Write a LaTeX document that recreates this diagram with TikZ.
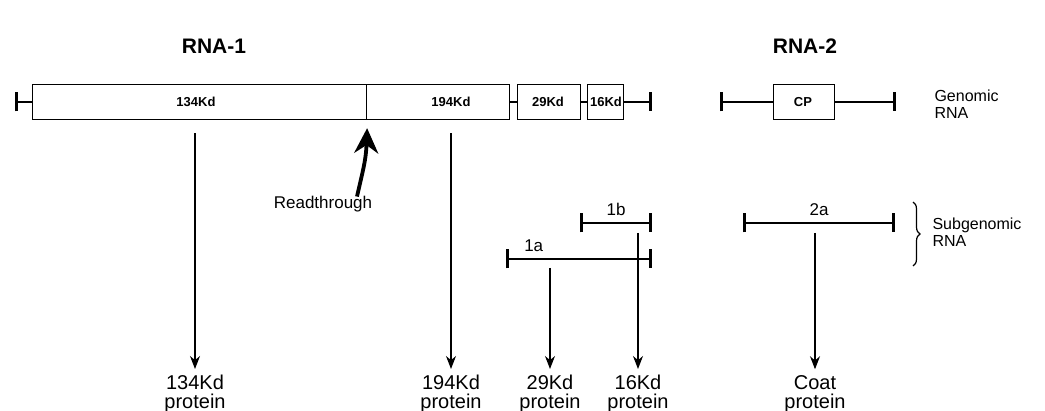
\documentclass[tikz,border=0pt]{standalone}
\usepackage{fontspec}
\setmainfont{Liberation Sans}
\usepackage{tikz}
\usetikzlibrary{arrows.meta,positioning,decorations.pathreplacing}

\begin{document}
\begin{tikzpicture}[
x=1pt, y=-1pt,
orf/.style={draw, line width=1.4pt, minimum height=35pt, inner sep=0pt, anchor=west},
orflabel/.style={font=\fontsize{13}{13}\selectfont\bfseries},
rna/.style={line width=2.6pt},
bothbars/.style={rna, {Bar[width=19pt,line width=2.6pt]}-{Bar[width=19pt,line width=2.6pt]}},
product/.style={-{Stealth[length=13pt,width=10pt]}, line width=1.2pt, shorten >=4pt},
protein/.style={align=center, inner sep=2pt, font=\fontsize{20}{19}\selectfont},
side/.style={align=left, anchor=west, font=\fontsize{16}{17}\selectfont},
sublabel/.style={above=3pt, font=\fontsize{17}{17}\selectfont},
head/.style={font=\fontsize{21}{21}\selectfont\bfseries}
]
\useasboundingbox (0,0) rectangle (1045,411);

% headings
\node[head] (h1) at (214,46) {RNA-1};
\node[head] (h2) at (805,46) {RNA-2};

% RNA-1 genomic
\coordinate (g1start) at (15,102);
\coordinate (g1end) at (652,102);
\node[orf, minimum width=334pt] (p134) at (32,102) {};
\node[orf, minimum width=143pt] (p194) at (366,102) {};
\node[orf, minimum width=63pt] (p29) at (517,102) {};
\node[orf, minimum width=36pt] (p16) at (587,102) {};
\node[orflabel] (t134) at (196,102) {134Kd};
\node[orflabel] (t194) at (451,102) {194Kd};
\node[orflabel] (t29) at (548,102) {29Kd};
\node[orflabel, inner sep=0pt] (t16) at (606,102) {16Kd};
\draw[rna, {Bar[width=19pt,line width=2.6pt]}-] (g1start) -- (p134.west);
\draw[rna] (p194.east) -- (p29.west);
\draw[rna] (p29.east) -- (p16.west);
\draw[rna, -{Bar[width=19pt,line width=2.6pt]}] (p16.east) -- (g1end);

% RNA-2 genomic
\coordinate (g2start) at (720,102);
\coordinate (g2end) at (896,102);
\node[orf, minimum width=61pt] (cp) at (773,102) {};
\node[orflabel] (tcp) at (803,102) {CP};
\draw[rna, {Bar[width=19pt,line width=2.6pt]}-] (g2start) -- (cp.west);
\draw[rna, -{Bar[width=19pt,line width=2.6pt]}] (cp.east) -- (g2end);
\node[side] (genomic) at (931,104) {Genomic\\RNA};

% readthrough
\node[font=\fontsize{17}{17}\selectfont] (rt) at (323,204) {Readthrough};
\draw[line width=3.8pt, -{Stealth[length=25pt,width=24pt]}, shorten >=8pt]
  ([xshift=34pt,yshift=-4pt]rt.north) .. controls (363,170) and (366,160) .. (p134.south east);

% subgenomic
\coordinate (s1bs) at (580,223);
\coordinate (s1be) at (652,223);
\coordinate (s1as) at (506,259);
\coordinate (s1ae) at (652,259);
\coordinate (s2as) at (743,223);
\coordinate (s2ae) at (895,223);
\draw[bothbars] (s1bs) -- node[sublabel] (l1b) {1b} (s1be);
\draw[bothbars] (s1as) -- node[sublabel, pos=0.19] (l1a) {1a} (s1ae);
\draw[bothbars] (s2as) -- node[sublabel] (l2a) {2a} (s2ae);
\draw[decorate, decoration={brace, amplitude=7pt}, line width=1.2pt] (913,202) -- (913,266);
\node[side] (subgen) at (929,232) {Subgenomic\\RNA};

% proteins
\node[protein] (pr134) at (195,394) {134Kd\\protein};
\node[protein] (pr194) at (451,394) {194Kd\\protein};
\node[protein] (pr29) at (550,394) {29Kd\\protein};
\node[protein] (pr16) at (638,394) {16Kd\\protein};
\node[protein] (prcp) at (815,394) {Coat\\protein};

\draw[product, shorten <=13pt] (pr134 |- p134.south) -- (pr134.north);
\draw[product, shorten <=13pt] (pr194 |- p194.south) -- (pr194.north);
\draw[product, shorten <=9pt] (pr29 |- s1as) -- (pr29.north);
\draw[product, shorten <=10pt] (pr16 |- s1bs) -- (pr16.north);
\draw[product, shorten <=10pt] (prcp |- s2as) -- (prcp.north);
\end{tikzpicture}
\end{document}
